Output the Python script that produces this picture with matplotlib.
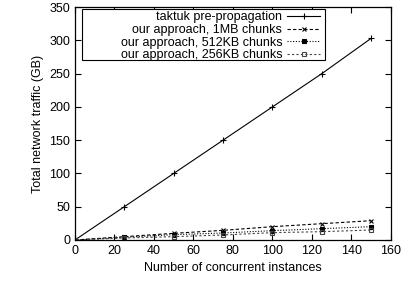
import numpy as np
import matplotlib
matplotlib.use('Agg')
import matplotlib.pyplot as plt
from matplotlib.patches import Rectangle

plt.rcParams['font.family'] = ['Liberation Sans', 'DejaVu Sans']

instances = [0, 25, 50, 75, 100, 125, 150]
taktuk = [0, 50, 100, 150, 200, 250, 303]
chunks_1mb = [0, 5, 10, 14.5, 20, 24.5, 29]
chunks_512kb = [0, 4, 8, 10.5, 14, 17, 20]
chunks_256kb = [0, 3, 5, 7.5, 11, 12.5, 15]

labels = ['taktuk pre-propagation', 'our approach, 1MB chunks',
          'our approach, 512KB chunks', 'our approach, 256KB chunks']

fig = plt.figure(figsize=(4.03, 2.83), dpi=100)
ax = fig.add_axes([0.186, 0.152, 0.784, 0.823])

ax.plot(instances, taktuk, color='black', lw=0.8, marker='+', ms=4, mew=0.8, label=labels[0])
ax.plot(instances, chunks_1mb, color='black', lw=0.8, ls=(0, (3, 2)), marker='x', ms=3.5, mew=0.8, label=labels[1])
ax.plot(instances, chunks_512kb, color='black', lw=0.8, ls=(0, (1, 1.5)), marker='s', ms=3, mew=0.8, label=labels[2])
ax.plot(instances, chunks_256kb, color='#444444', lw=0.8, ls=(0, (2, 2)), marker='s', ms=3.5, mew=0.8,
        mfc='none', label=labels[3])

ax.set_xlim(0, 160)
ax.set_ylim(0, 350)
ax.set_xticks(np.arange(0, 161, 20))
ax.set_yticks(np.arange(0, 351, 50))
ax.tick_params(direction='in', top=True, right=True, length=4, width=0.8, labelsize=9)
for s in ax.spines.values():
    s.set_linewidth(0.9)

ax.set_xlabel('Number of concurrent instances', fontsize=9)
ax.set_ylabel('Total network traffic (GB)', fontsize=9)

# gnuplot-style key box, wider than its contents
ax.add_patch(Rectangle((0.021, 0.773), 0.770, 0.217, transform=ax.transAxes,
                       fill=True, facecolor='white', edgecolor='black', lw=0.8, zorder=4))
leg = ax.legend(loc='upper right', bbox_to_anchor=(0.783, 0.992), markerfirst=False, fontsize=9,
                frameon=False, handlelength=2.6,
                labelspacing=0.05, borderpad=0.2, handletextpad=0.4, borderaxespad=0)
leg.set_zorder(5)

fig.savefig('out.png', dpi=100)
